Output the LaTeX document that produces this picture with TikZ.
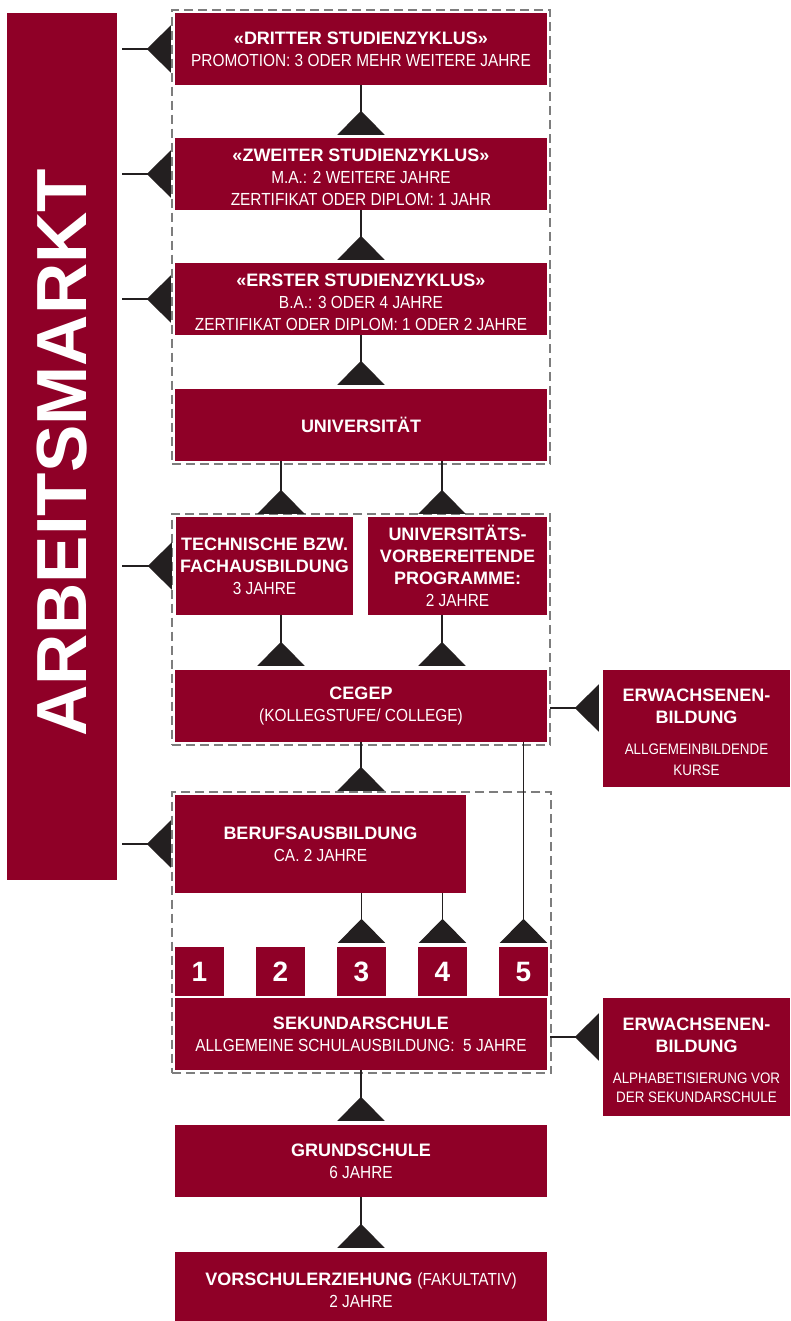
\documentclass[tikz,border=0pt]{standalone}
\usepackage{fontspec}
\setmainfont{Liberation Sans}
\newfontfamily\rgfont{Liberation Sans}[FakeStretch=0.88]
\usetikzlibrary{arrows.meta,fit}
\definecolor{wine}{RGB}{143,0,39}
\definecolor{ink}{RGB}{35,31,32}
\definecolor{dashgray}{RGB}{125,125,125}
\newcommand{\hb}{\bfseries\fontsize{18}{22}\selectfont}
\newcommand{\rg}{\rgfont\fontsize{17.5}{22}\selectfont}
\newcommand{\sm}{\rgfont\fontsize{15.2}{19}\selectfont}
\tikzset{
  box/.style={fill=wine, text=white, align=center, inner sep=0pt, font=\fontsize{18}{22}\selectfont},
  lbl/.style={text=white, align=center, inner sep=0pt, font=\fontsize{18}{22}\selectfont},
  grp/.style={draw=dashgray, line width=2.4pt, dash pattern=on 9pt off 5pt, inner sep=3pt},
  conn/.style={draw=ink, line width=1.7pt, -{Triangle[reversed,length=24pt,width=47pt,fill=ink]}},
}
\begin{document}
\begin{tikzpicture}[x=1pt,y=-1pt]
\useasboundingbox (0,0) rectangle (790,1321);
% coordinates for connector columns
\coordinate (xa) at (281,0);
\coordinate (xb) at (442,0);
\coordinate (xm) at (361,0);
% left column
\node[box, minimum width=110pt, minimum height=867pt] (am) at (62,446.5) {};
\node[text=white, rotate=90, font=\bfseries\fontsize{71}{71}\selectfont, inner sep=0pt] (amt) at (62,453) {ARBEITSMARKT};
% university group
\node[box, minimum width=372pt, minimum height=72pt] (d3) at (361,49) {{\hb «DRITTER STUDIENZYKLUS»}\\{\rg PROMOTION: 3 ODER MEHR WEITERE JAHRE}};
\node[box, minimum width=372pt, minimum height=72pt] (d2) at (361,174) {};
\node[lbl] (d2t) at (361,177) {{\hb «ZWEITER STUDIENZYKLUS»}\\{\rg M.A.: 2 WEITERE JAHRE}\\{\rg ZERTIFIKAT ODER DIPLOM: 1 JAHR}};
\node[box, minimum width=372pt, minimum height=72pt] (d1) at (361,299) {};
\node[lbl] (d1t) at (361,302) {{\hb «ERSTER STUDIENZYKLUS»}\\{\rg B.A.: 3 ODER 4 JAHRE}\\{\rg ZERTIFIKAT ODER DIPLOM: 1 ODER 2 JAHRE}};
\node[box, minimum width=372pt, minimum height=72pt] (uni) at (361,425) {\hb UNIVERSITÄT};
% cegep group
\node[box, minimum width=177pt, minimum height=98pt] (tech) at (264.5,566) {{\hb TECHNISCHE BZW.}\\{\hb FACHAUSBILDUNG}\\{\rg 3 JAHRE}};
\node[box, minimum width=179pt, minimum height=98pt] (uvp) at (457.5,566) {{\hb UNIVERSITÄTS-}\\{\hb VORBEREITENDE}\\{\hb PROGRAMME:}\\{\rg 2 JAHRE}};
\node[box, minimum width=372pt, minimum height=72pt] (cegep) at (361,706) {{\hb CEGEP}\\{\rg (KOLLEGSTUFE/ COLLEGE)}};
% secondary group
\node[box, minimum width=291pt, minimum height=98pt] (beruf) at (320.5,844) {{\hb BERUFSAUSBILDUNG}\\{\rg CA. 2 JAHRE}};
\foreach \i/\x in {1/199.5,2/280.5,3/361.5,4/442.5,5/523.5}{
  \node[box, minimum width=49pt, minimum height=49pt, font=\bfseries\fontsize{28}{28}\selectfont] (n\i) at (\x,971.5) {\i};
}
\node[box, minimum width=372pt, minimum height=72pt] (sek) at (361,1034) {{\hb SEKUNDARSCHULE}\\{\rg ALLGEMEINE SCHULAUSBILDUNG:\ \ 5 JAHRE}};
\node[box, minimum width=372pt, minimum height=72pt] (grund) at (361,1161) {{\hb GRUNDSCHULE}\\{\rg 6 JAHRE}};
\node[box, minimum width=372pt, minimum height=72pt] (vor) at (361,1288) {};
\node[lbl] (vort) at (361,1290) {{\hb VORSCHULERZIEHUNG}\ {\rg (FAKULTATIV)}\\{\rg 2 JAHRE}};
% adult education
\node[box, minimum width=187pt, minimum height=117pt] (ew1) at (696.5,728.5) {};
\node[lbl] (ew1t) at (696.5,732) {{\hb ERWACHSENEN-}\\{\hb BILDUNG}\\[9pt]{\sm ALLGEMEINBILDENDE}\\[-1pt]{\sm KURSE}};
\node[box, minimum width=187pt, minimum height=118pt] (ew2) at (696.5,1057) {};
\node[lbl] (ew2t) at (696.5,1060) {{\hb ERWACHSENEN-}\\{\hb BILDUNG}\\[9pt]{\sm ALPHABETISIERUNG VOR}\\[-3pt]{\sm DER SEKUNDARSCHULE}};
% dashed groups
\node[grp, fit=(d3)(uni)] (g1) {};
\node[grp, fit=(tech)(uvp)(cegep)] (g2) {};
\node[grp, fit=(beruf)(n1)(n5)(sek)] (g3) {};
% vertical connectors
\draw[conn, shorten >=3pt] (d3.south) -- (d2.north);
\draw[conn, shorten >=3pt] (d2.south) -- (d1.north);
\draw[conn, shorten >=4pt] (d1.south) -- (uni.north);
\draw[conn, shorten >=3pt] (uni.south -| xa) -- (tech.north -| xa);
\draw[conn, shorten >=3pt] (uni.south -| xb) -- (uvp.north -| xb);
\draw[conn, shorten >=4pt] (tech.south -| xa) -- (cegep.north -| xa);
\draw[conn, shorten >=4pt] (uvp.south -| xb) -- (cegep.north -| xb);
\draw[conn, shorten >=4pt] (cegep.south -| xm) -- (beruf.north -| xm);
\draw[conn, shorten >=4pt] (beruf.south -| n3.north) -- (n3.north);
\draw[conn, shorten >=4pt] (beruf.south -| n4.north) -- (n4.north);
\draw[conn, shorten >=4pt] (cegep.south -| n5.north) -- (n5.north);
\draw[conn, shorten >=4pt] (sek.south) -- (grund.north);
\draw[conn, shorten >=4pt] (grund.south) -- (vor.north);
% to labour market
\foreach \s in {d3,d2,d1,tech,beruf}{
  \draw[conn, shorten <=5pt, shorten >=4pt] (am.east |- \s.west) -- (\s.west);
}
% adult education
\draw[conn, shorten <=3pt, shorten >=4pt] ([yshift=-2pt]cegep.east) -- ([yshift=-2pt]cegep.east -| ew1.west);
\draw[conn, shorten <=3pt, shorten >=4pt] ([yshift=-3pt]sek.east) -- ([yshift=-3pt]sek.east -| ew2.west);
\end{tikzpicture}
\end{document}
